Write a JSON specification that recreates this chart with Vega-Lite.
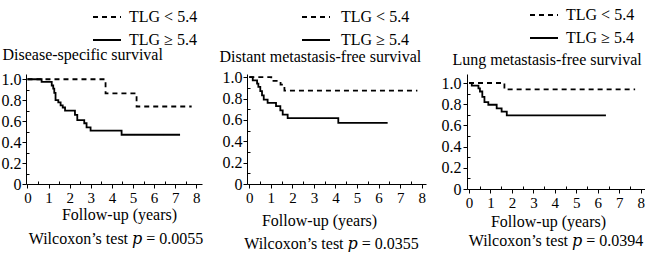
{
  "$schema": "https://vega.github.io/schema/vega-lite/v6.json",
  "background": "white",
  "padding": {"left": 1, "top": 0, "right": 0, "bottom": 0},
  "config": {
    "font": "Liberation Serif, DejaVu Serif",
    "view": {"stroke": null},
    "axis": {"labelFont": "Liberation Serif, DejaVu Serif", "labelFontSize": 15, "labelColor": "black", "domainColor": "black", "tickColor": "black", "grid": false, "titleFont": "Liberation Serif, DejaVu Serif", "titleFontWeight": "normal", "titleColor": "black", "titleFontSize": 16, "domainWidth": 1, "tickWidth": 1, "labelFlush": false, "labelOverlap": false},
    "legend": {"labelFont": "Liberation Serif, DejaVu Serif", "labelFontSize": 16, "labelColor": "black", "padding": 0, "symbolType": "stroke", "symbolSize": 784, "symbolStrokeWidth": 1.8, "symbolStrokeColor": "black", "title": null, "orient": "none", "direction": "vertical", "labelLimit": 200},
    "title": {"font": "Liberation Serif, DejaVu Serif", "fontSize": 16, "fontWeight": "normal", "color": "black"},
    "line": {"color": "black", "strokeWidth": 1.8}
  },
  "datasets": {
    "km": [
      {"p": "DSS", "g": "TLG < 5.4", "t": 0, "s": 1},
      {"p": "DSS", "g": "TLG < 5.4", "t": 3.7, "s": 0.866},
      {"p": "DSS", "g": "TLG < 5.4", "t": 5.17, "s": 0.74},
      {"p": "DSS", "g": "TLG < 5.4", "t": 7.78, "s": 0.74},
      {"p": "DSS", "g": "TLG ≥ 5.4", "t": 0, "s": 1},
      {"p": "DSS", "g": "TLG ≥ 5.4", "t": 0.67, "s": 0.974},
      {"p": "DSS", "g": "TLG ≥ 5.4", "t": 1.15, "s": 0.94},
      {"p": "DSS", "g": "TLG ≥ 5.4", "t": 1.22, "s": 0.91},
      {"p": "DSS", "g": "TLG ≥ 5.4", "t": 1.27, "s": 0.87},
      {"p": "DSS", "g": "TLG ≥ 5.4", "t": 1.33, "s": 0.8},
      {"p": "DSS", "g": "TLG ≥ 5.4", "t": 1.46, "s": 0.78},
      {"p": "DSS", "g": "TLG ≥ 5.4", "t": 1.57, "s": 0.75},
      {"p": "DSS", "g": "TLG ≥ 5.4", "t": 1.67, "s": 0.73},
      {"p": "DSS", "g": "TLG ≥ 5.4", "t": 1.78, "s": 0.7},
      {"p": "DSS", "g": "TLG ≥ 5.4", "t": 2.25, "s": 0.66},
      {"p": "DSS", "g": "TLG ≥ 5.4", "t": 2.36, "s": 0.61},
      {"p": "DSS", "g": "TLG ≥ 5.4", "t": 2.69, "s": 0.58},
      {"p": "DSS", "g": "TLG ≥ 5.4", "t": 2.8, "s": 0.54},
      {"p": "DSS", "g": "TLG ≥ 5.4", "t": 2.99, "s": 0.51},
      {"p": "DSS", "g": "TLG ≥ 5.4", "t": 4.46, "s": 0.47},
      {"p": "DSS", "g": "TLG ≥ 5.4", "t": 7.23, "s": 0.47},
      {"p": "DMFS", "g": "TLG < 5.4", "t": 0, "s": 1},
      {"p": "DMFS", "g": "TLG < 5.4", "t": 1.02, "s": 0.965},
      {"p": "DMFS", "g": "TLG < 5.4", "t": 1.45, "s": 0.93},
      {"p": "DMFS", "g": "TLG < 5.4", "t": 1.63, "s": 0.875},
      {"p": "DMFS", "g": "TLG < 5.4", "t": 7.8, "s": 0.875},
      {"p": "DMFS", "g": "TLG ≥ 5.4", "t": 0, "s": 1},
      {"p": "DMFS", "g": "TLG ≥ 5.4", "t": 0.16, "s": 0.97},
      {"p": "DMFS", "g": "TLG ≥ 5.4", "t": 0.36, "s": 0.94},
      {"p": "DMFS", "g": "TLG ≥ 5.4", "t": 0.42, "s": 0.91},
      {"p": "DMFS", "g": "TLG ≥ 5.4", "t": 0.51, "s": 0.87},
      {"p": "DMFS", "g": "TLG ≥ 5.4", "t": 0.59, "s": 0.83},
      {"p": "DMFS", "g": "TLG ≥ 5.4", "t": 0.67, "s": 0.79},
      {"p": "DMFS", "g": "TLG ≥ 5.4", "t": 0.85, "s": 0.76},
      {"p": "DMFS", "g": "TLG ≥ 5.4", "t": 1.24, "s": 0.73},
      {"p": "DMFS", "g": "TLG ≥ 5.4", "t": 1.44, "s": 0.69},
      {"p": "DMFS", "g": "TLG ≥ 5.4", "t": 1.55, "s": 0.65},
      {"p": "DMFS", "g": "TLG ≥ 5.4", "t": 1.78, "s": 0.616},
      {"p": "DMFS", "g": "TLG ≥ 5.4", "t": 4.13, "s": 0.572},
      {"p": "DMFS", "g": "TLG ≥ 5.4", "t": 6.42, "s": 0.572},
      {"p": "LMFS", "g": "TLG < 5.4", "t": 0, "s": 1},
      {"p": "LMFS", "g": "TLG < 5.4", "t": 1.65, "s": 0.94},
      {"p": "LMFS", "g": "TLG < 5.4", "t": 7.74, "s": 0.94},
      {"p": "LMFS", "g": "TLG ≥ 5.4", "t": 0, "s": 1},
      {"p": "LMFS", "g": "TLG ≥ 5.4", "t": 0.13, "s": 0.975},
      {"p": "LMFS", "g": "TLG ≥ 5.4", "t": 0.44, "s": 0.95},
      {"p": "LMFS", "g": "TLG ≥ 5.4", "t": 0.51, "s": 0.92},
      {"p": "LMFS", "g": "TLG ≥ 5.4", "t": 0.62, "s": 0.87},
      {"p": "LMFS", "g": "TLG ≥ 5.4", "t": 0.72, "s": 0.82},
      {"p": "LMFS", "g": "TLG ≥ 5.4", "t": 0.9, "s": 0.795},
      {"p": "LMFS", "g": "TLG ≥ 5.4", "t": 1.29, "s": 0.76},
      {"p": "LMFS", "g": "TLG ≥ 5.4", "t": 1.52, "s": 0.73},
      {"p": "LMFS", "g": "TLG ≥ 5.4", "t": 1.76, "s": 0.694},
      {"p": "LMFS", "g": "TLG ≥ 5.4", "t": 6.38, "s": 0.694}
    ]
  },
  "spacing": 15,
  "resolve": {"scale": {"strokeDash": "independent", "x": "independent", "y": "independent"}, "legend": {"strokeDash": "independent"}},
  "hconcat": [
    {
      "width": 176, "height": 110,
      "title": {"text": "Wilcoxon’s test 𝑝 = 0.0055", "orient": "bottom", "anchor": "middle", "frame": "group", "dx": 2, "offset": 9},
      "data": {"name": "km"},
      "transform": [{"filter": "datum.p === 'DSS'"}],
      "layer": [
        {
          "mark": {"type": "line", "interpolate": "step-after"},
          "encoding": {
            "x": {"field": "t", "type": "quantitative", "scale": {"domain": [-0.07, 8.27], "nice": false, "zero": false},
                  "axis": {"orient": "bottom", "values": [0,1,2,3,4,5,6,7,8], "tickSize": 4, "labelPadding": 2, "title": "Follow-up (years)", "titleX": 93, "titleY": 30, "titleAlign": "center", "titleBaseline": "middle"}},
            "y": {"field": "s", "type": "quantitative", "scale": {"domain": [0, 1.05], "nice": false, "zero": false},
                  "axis": {"orient": "left", "values": [0,0.2,0.4,0.6,0.8,1.0], "labelExpr": "datum.value === 0 ? '0' : format(datum.value, '.1f')", "labelFontSize": 16, "tickSize": 4, "labelPadding": 1, "title": "Disease-specific survival", "titleAngle": 0, "titleAlign": "left", "titleBaseline": "middle", "titleX": -24, "titleY": -20}},
            "strokeDash": {"field": "g", "type": "nominal", "scale": {"domain": ["TLG < 5.4", "TLG ≥ 5.4"], "range": [[5,4],[1,0]]},
                           "legend": {"legendX": 66, "legendY": -72, "labelOffset": 7, "rowPadding": -10}}
          }
        },
        {
          "mark": {"type": "line", "opacity": 0},
          "encoding": {
            "x": {"field": "t", "type": "quantitative", "axis": {"orient": "bottom", "values": [0.5,1.5,2.5,3.5,4.5,5.5,6.5,7.5], "tickSize": -3, "labels": false, "domain": false, "title": null}},
            "y": {"field": "s", "type": "quantitative", "axis": {"orient": "left", "values": [0.1,0.3,0.5,0.7,0.9], "tickSize": -3, "labels": false, "domain": false, "title": null}},
            "detail": {"field": "g", "type": "nominal"}
          }
        }
      ],
      "resolve": {"axis": {"x": "independent", "y": "independent"}}
    },
    {
      "width": 179, "height": 110,
      "title": {"text": "Wilcoxon’s test 𝑝 = 0.0355", "orient": "bottom", "anchor": "middle", "frame": "group", "dx": -5, "offset": 8},
      "data": {"name": "km"},
      "transform": [{"filter": "datum.p === 'DMFS'"}],
      "layer": [
        {
          "mark": {"type": "line", "interpolate": "step-after"},
          "encoding": {
            "x": {"field": "t", "type": "quantitative", "scale": {"domain": [-0.107, 8.2], "nice": false, "zero": false},
                  "axis": {"orient": "bottom", "values": [0,1,2,3,4,5,6,7,8], "tickSize": 4, "labelPadding": 2, "title": "Follow-up (years)", "titleX": 72, "titleY": 36, "titleAlign": "center", "titleBaseline": "middle"}},
            "y": {"field": "s", "type": "quantitative", "scale": {"domain": [0, 1.03], "nice": false, "zero": false},
                  "axis": {"orient": "left", "values": [0,0.2,0.4,0.6,0.8,1.0], "labelExpr": "datum.value === 0 ? '0' : format(datum.value, '.1f')", "labelFontSize": 16, "tickSize": 4, "labelPadding": 1, "title": "Distant metastasis-free survival", "titleAngle": 0, "titleAlign": "left", "titleBaseline": "middle", "titleX": -28, "titleY": -18}},
            "strokeDash": {"field": "g", "type": "nominal", "scale": {"domain": ["TLG < 5.4", "TLG ≥ 5.4"], "range": [[5,4],[1,0]]},
                           "legend": {"legendX": 54, "legendY": -72, "labelOffset": 10, "rowPadding": -10}}
          }
        },
        {
          "mark": {"type": "line", "opacity": 0},
          "encoding": {
            "x": {"field": "t", "type": "quantitative", "axis": {"orient": "bottom", "values": [0.5,1.5,2.5,3.5,4.5,5.5,6.5,7.5], "tickSize": -3, "labels": false, "domain": false, "title": null}},
            "y": {"field": "s", "type": "quantitative", "axis": {"orient": "left", "values": [0.1,0.3,0.5,0.7,0.9], "tickSize": -3, "labels": false, "domain": false, "title": null}},
            "detail": {"field": "g", "type": "nominal"}
          }
        }
      ],
      "resolve": {"axis": {"x": "independent", "y": "independent"}}
    },
    {
      "width": 178, "height": 115,
      "title": {"text": "Wilcoxon’s test 𝑝 = 0.0394", "orient": "bottom", "anchor": "middle", "frame": "group", "dx": 0, "offset": 4},
      "data": {"name": "km"},
      "transform": [{"filter": "datum.p === 'LMFS'"}],
      "layer": [
        {
          "mark": {"type": "line", "interpolate": "step-after"},
          "encoding": {
            "x": {"field": "t", "type": "quantitative", "scale": {"domain": [-0.093, 8.2], "nice": false, "zero": false},
                  "axis": {"orient": "bottom", "values": [0,1,2,3,4,5,6,7,8], "tickSize": 4, "labelPadding": 2, "title": "Follow-up (years)", "titleX": 81, "titleY": 32, "titleAlign": "center", "titleBaseline": "middle"}},
            "y": {"field": "s", "type": "quantitative", "scale": {"domain": [0, 1.085], "nice": false, "zero": false},
                  "axis": {"orient": "left", "values": [0,0.2,0.4,0.6,0.8,1.0], "labelExpr": "datum.value === 0 ? '0' : format(datum.value, '.1f')", "labelFontSize": 16, "tickSize": 4, "labelPadding": 2, "title": "Lung metastasis-free survival", "titleAngle": 0, "titleAlign": "left", "titleBaseline": "middle", "titleX": -15, "titleY": -15}},
            "strokeDash": {"field": "g", "type": "nominal", "scale": {"domain": ["TLG < 5.4", "TLG ≥ 5.4"], "range": [[5,4],[1,0]]},
                           "legend": {"legendX": 62, "legendY": -74, "labelOffset": 7, "rowPadding": -13}}
          }
        },
        {
          "mark": {"type": "line", "opacity": 0},
          "encoding": {
            "x": {"field": "t", "type": "quantitative", "axis": {"orient": "bottom", "values": [0.5,1.5,2.5,3.5,4.5,5.5,6.5,7.5], "tickSize": -3, "labels": false, "domain": false, "title": null}},
            "y": {"field": "s", "type": "quantitative", "axis": {"orient": "left", "values": [0.1,0.3,0.5,0.7,0.9], "tickSize": -3, "labels": false, "domain": false, "title": null}},
            "detail": {"field": "g", "type": "nominal"}
          }
        }
      ],
      "resolve": {"axis": {"x": "independent", "y": "independent"}}
    }
  ]
}
